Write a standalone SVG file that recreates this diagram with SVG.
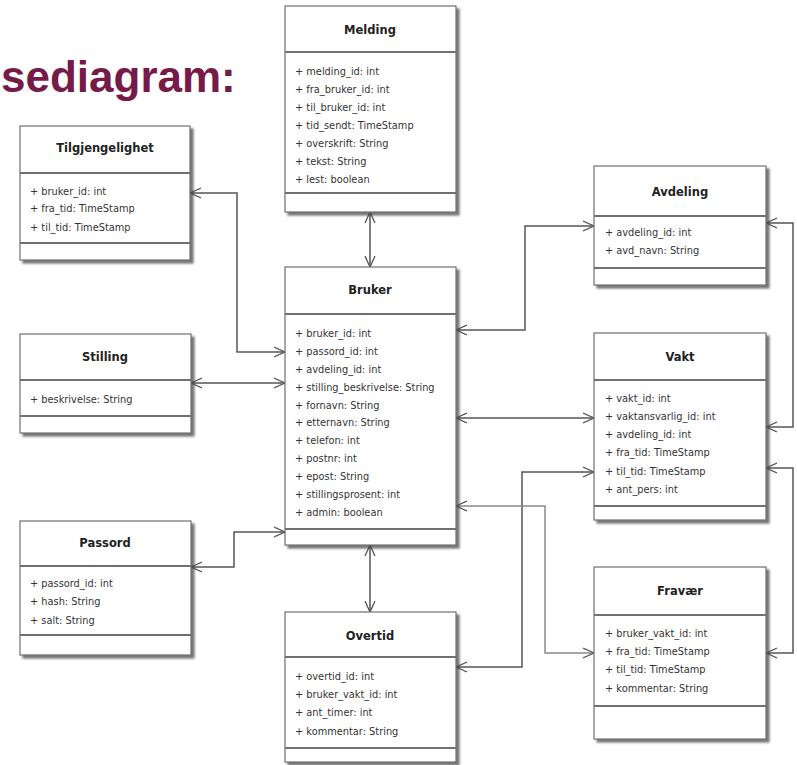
<svg xmlns="http://www.w3.org/2000/svg" width="797" height="765" viewBox="0 0 797 765">
  <defs>
    <filter id="shadow" x="-10%" y="-10%" width="130%" height="130%">
      <feDropShadow dx="3" dy="3" stdDeviation="1.2" flood-color="#444" flood-opacity="0.75"/>
    </filter>
    <marker id="open" viewBox="0 0 12 12" markerWidth="12" markerHeight="12" refX="11" refY="6" orient="auto-start-reverse" markerUnits="userSpaceOnUse">
      <path d="M0,1 L11,6 L0,11" fill="none" stroke="#555" stroke-width="1.3"/>
    </marker>
  </defs>
  <style>
    .frame { fill: #fff; stroke: #707070; stroke-width: 1.2; filter: url(#shadow); }
    .sep { stroke: #707070; stroke-width: 1.8; }
    .name { font-family: "DejaVu Sans", "Liberation Sans", sans-serif; font-size: 11.5px; font-weight: bold; fill: #222; text-anchor: middle; }
    .attr { font-family: "DejaVu Sans", "Liberation Sans", sans-serif; font-size: 9.8px; fill: #333; }
    .link { fill: none; stroke: #555; stroke-width: 1.5; marker-start: url(#open); marker-end: url(#open); }
    .link.light { stroke: #8a8a8a; }
    .heading { font-family: "Liberation Sans", Arial, sans-serif; font-size: 44px; font-weight: bold; fill: #761a48; }
  </style>
  <rect width="797" height="765" fill="#fff"/>

  <text class="heading" x="1" y="92">sediagram:</text>

  <!-- associations -->
  <g id="connectors">
    <path class="link" d="M370,212 V267"/>
    <path class="link" d="M190,193 H237 V352 H285"/>
    <path class="link" d="M191,383 H285"/>
    <path class="link" d="M191,567 H234 V532 H285"/>
    <path class="link" d="M370,545 V612"/>
    <path class="link" d="M456,330 H525 V226 H594"/>
    <path class="link" d="M456,418 H594"/>
    <path class="link" d="M456,667 H522 V472 H594"/>
    <path class="link light" d="M456,506 H545 V653 H594"/>
    <path class="link" d="M766,223 H793 V427 H766"/>
    <path class="link" d="M766,468 H793 V653 H766"/>
  </g>

  <g id="melding">
    <rect class="frame" x="285" y="6" width="171" height="206"/>
    <line class="sep" x1="285" y1="52" x2="456" y2="52"/>
    <line class="sep" x1="285" y1="193" x2="456" y2="193"/>
    <text class="name" x="370" y="34">Melding</text>
    <text class="attr" x="295" y="75">+ melding_id: int</text>
    <text class="attr" x="295" y="93">+ fra_bruker_id: int</text>
    <text class="attr" x="295" y="111">+ til_bruker_id: int</text>
    <text class="attr" x="295" y="129">+ tid_sendt: TimeStamp</text>
    <text class="attr" x="295" y="147">+ overskrift: String</text>
    <text class="attr" x="295" y="165">+ tekst: String</text>
    <text class="attr" x="295" y="183">+ lest: boolean</text>
  </g>

  <g id="tilgjengelighet">
    <rect class="frame" x="20" y="126" width="170" height="134"/>
    <line class="sep" x1="20" y1="173" x2="190" y2="173"/>
    <line class="sep" x1="20" y1="243" x2="190" y2="243"/>
    <text class="name" x="105" y="152">Tilgjengelighet</text>
    <text class="attr" x="30" y="195">+ bruker_id: int</text>
    <text class="attr" x="30" y="212">+ fra_tid: TimeStamp</text>
    <text class="attr" x="30" y="231">+ til_tid: TimeStamp</text>
  </g>

  <g id="stilling">
    <rect class="frame" x="20" y="334" width="171" height="99"/>
    <line class="sep" x1="20" y1="380" x2="191" y2="380"/>
    <line class="sep" x1="20" y1="416" x2="191" y2="416"/>
    <text class="name" x="105" y="361">Stilling</text>
    <text class="attr" x="30" y="403">+ beskrivelse: String</text>
  </g>

  <g id="passord">
    <rect class="frame" x="20" y="521" width="171" height="134"/>
    <line class="sep" x1="20" y1="566" x2="191" y2="566"/>
    <line class="sep" x1="20" y1="635" x2="191" y2="635"/>
    <text class="name" x="105" y="547">Passord</text>
    <text class="attr" x="30" y="587">+ passord_id: int</text>
    <text class="attr" x="30" y="605">+ hash: String</text>
    <text class="attr" x="30" y="624">+ salt: String</text>
  </g>

  <g id="bruker">
    <rect class="frame" x="285" y="267" width="171" height="278"/>
    <line class="sep" x1="285" y1="314" x2="456" y2="314"/>
    <line class="sep" x1="285" y1="529" x2="456" y2="529"/>
    <text class="name" x="370" y="294">Bruker</text>
    <text class="attr" x="295" y="337">+ bruker_id: int</text>
    <text class="attr" x="295" y="355">+ passord_id: int</text>
    <text class="attr" x="295" y="373">+ avdeling_id: int</text>
    <text class="attr" x="295" y="391">+ stilling_beskrivelse: String</text>
    <text class="attr" x="295" y="409">+ fornavn: String</text>
    <text class="attr" x="295" y="426">+ etternavn: String</text>
    <text class="attr" x="295" y="444">+ telefon: int</text>
    <text class="attr" x="295" y="462">+ postnr: int</text>
    <text class="attr" x="295" y="480">+ epost: String</text>
    <text class="attr" x="295" y="498">+ stillingsprosent: int</text>
    <text class="attr" x="295" y="516">+ admin: boolean</text>
  </g>

  <g id="avdeling">
    <rect class="frame" x="594" y="166" width="172" height="119"/>
    <line class="sep" x1="594" y1="216" x2="766" y2="216"/>
    <line class="sep" x1="594" y1="268" x2="766" y2="268"/>
    <text class="name" x="680" y="196">Avdeling</text>
    <text class="attr" x="605" y="236">+ avdeling_id: int</text>
    <text class="attr" x="605" y="254">+ avd_navn: String</text>
  </g>

  <g id="vakt">
    <rect class="frame" x="594" y="333" width="172" height="187"/>
    <line class="sep" x1="594" y1="380" x2="766" y2="380"/>
    <line class="sep" x1="594" y1="506" x2="766" y2="506"/>
    <text class="name" x="680" y="361">Vakt</text>
    <text class="attr" x="605" y="402">+ vakt_id: int</text>
    <text class="attr" x="605" y="420">+ vaktansvarlig_id: int</text>
    <text class="attr" x="605" y="438">+ avdeling_id: int</text>
    <text class="attr" x="605" y="456">+ fra_tid: TimeStamp</text>
    <text class="attr" x="605" y="475">+ til_tid: TimeStamp</text>
    <text class="attr" x="605" y="493">+ ant_pers: int</text>
  </g>

  <g id="fravaer">
    <rect class="frame" x="594" y="567" width="172" height="172"/>
    <line class="sep" x1="594" y1="615" x2="766" y2="615"/>
    <line class="sep" x1="594" y1="706" x2="766" y2="706"/>
    <text class="name" x="680" y="595">Fravær</text>
    <text class="attr" x="605" y="637">+ bruker_vakt_id: int</text>
    <text class="attr" x="605" y="655">+ fra_tid: TimeStamp</text>
    <text class="attr" x="605" y="673">+ til_tid: TimeStamp</text>
    <text class="attr" x="605" y="692">+ kommentar: String</text>
  </g>

  <g id="overtid">
    <rect class="frame" x="285" y="612" width="171" height="150"/>
    <line class="sep" x1="285" y1="657" x2="456" y2="657"/>
    <line class="sep" x1="285" y1="748" x2="456" y2="748"/>
    <text class="name" x="370" y="640">Overtid</text>
    <text class="attr" x="295" y="680">+ overtid_id: int</text>
    <text class="attr" x="295" y="698">+ bruker_vakt_id: int</text>
    <text class="attr" x="295" y="716">+ ant_timer: int</text>
    <text class="attr" x="295" y="735">+ kommentar: String</text>
  </g>
</svg>
